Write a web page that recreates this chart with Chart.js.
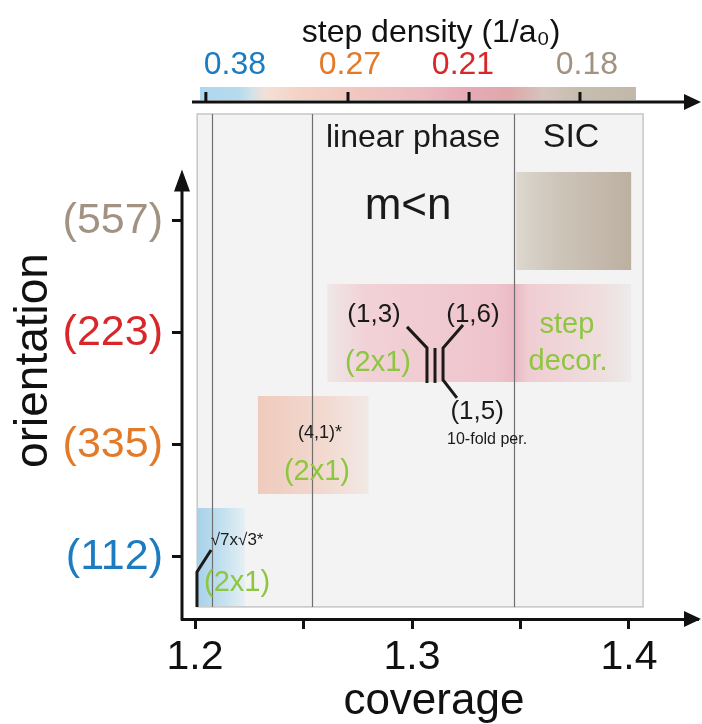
<!DOCTYPE html>
<html>
<head>
<meta charset="utf-8">
<script src="https://cdn.jsdelivr.net/npm/chart.js@4.4.0/dist/chart.umd.min.js"></script>
<style>
  html, body { margin: 0; padding: 0; background: #fff; }
  canvas { display: block; }
</style>
</head>
<body>
<canvas id="chart" width="702" height="724"></canvas>
<script>
// ---- data ----
const orientations = ['(112)', '(335)', '(223)', '(557)'];
const orientColors = ['#1c7cc2', '#e37a2a', '#d8272b', '#a29282'];
const regionStart = [1.201, 1.229, 1.261, 1.348];
const regionEnd = [1.223, 1.280, 1.401, 1.401];
const phaseBounds = [1.208, 1.254, 1.347];
const coverageTicks = [1.2, 1.25, 1.3, 1.35, 1.4];
const coverageLabels = ['1.2', '', '1.3', '', '1.4'];
const densityLabels = ['0.38', '0.27', '0.21', '0.18'];
const densityPos = [1.205, 1.2705, 1.3263, 1.3774];      // tick marks on the colour bar
const densityLabelPos = [1.2184, 1.2714, 1.3235, 1.3806]; // where the numbers sit

const FONT = '"Liberation Sans", Arial, Helvetica, sans-serif';
const GREEN = '#8dc63f';
const INK = '#1a1a1a';

// fills, left to right
const regionStops = [
  [[0, '#a7d1ea'], [0.55, '#c4e1ef'], [1, '#e6eff3']],
  [[0, '#efcbbd'], [0.6, '#f2d9cf'], [1, '#f1e9e5']],
  [[0, '#efe7e7'], [0.12, '#f1d2d7'], [0.55, '#efc4cc'], [0.62, '#eab9c5'], [0.66, '#efcdd2'], [0.9, '#efdede'], [1, '#ecebeb']],
  [[0, '#ddd7cf'], [0.35, '#cec5ba'], [1, '#bcb0a1']]
];
const colorbarStops = [
  [0, '#aed7ee'], [0.09, '#b6dbee'], [0.12, '#d2e2e8'], [0.15, '#f4e0d6'],
  [0.23, '#f4d2c6'], [0.34, '#f2c8c0'], [0.5, '#ecbcc0'], [0.62, '#e6aab6'],
  [0.71, '#e0a8aa'], [0.79, '#d6c4bc'], [0.86, '#c8beb0'], [1, '#c2b8a8']
];
const colorbarRange = [1.2023, 1.4032];
const panel = { x0: 1.201, x1: 1.4065, y0: -0.446, y1: 3.955 };

// labels placed in data coordinates (coverage, orientation index)
const notes = [
  { t: 'linear phase', x: 1.3005, y: 3.741, s: 32, c: INK },
  { t: 'SIC', x: 1.3733, y: 3.741, s: 34, c: INK },
  { t: 'm<n', x: 1.2982, y: 3.125, s: 44, c: INK },
  { t: '(1,3)', x: 1.2825, y: 2.161, s: 26, c: INK },
  { t: '(1,6)', x: 1.3281, y: 2.161, s: 26, c: INK },
  { t: '(2x1)', x: 1.2843, y: 1.732, s: 29, c: GREEN },
  { t: 'step', x: 1.3714, y: 2.071, s: 29, c: GREEN },
  { t: 'decor.', x: 1.3719, y: 1.741, s: 29, c: GREEN },
  { t: '(1,5)', x: 1.3300, y: 1.295, s: 26, c: INK },
  { t: '10-fold per.', x: 1.3346, y: 1.045, s: 16, c: INK },
  { t: '(4,1)*', x: 1.2576, y: 1.107, s: 18, c: INK },
  { t: '(2x1)', x: 1.2562, y: 0.759, s: 29, c: GREEN },
  { t: '\u221A7x\u221A3*', x: 1.2194, y: 0.152, s: 17, c: INK },
  { t: '(2x1)', x: 1.2194, y: -0.232, s: 29, c: GREEN }
];
const leaders = [
  [[1.2977, 2.054], [1.3069, 1.866], [1.3069, 1.554]],
  [[1.3106, 1.866], [1.3106, 1.554]],
  [[1.3235, 2.071], [1.3143, 1.866], [1.3143, 1.580], [1.3207, 1.420]],
  [[1.2009, -0.446], [1.2009, -0.134], [1.2074, 0.0625]]
];

function arrowHead(ctx, x, y, dir, len, half) {
  ctx.beginPath();
  if (dir === 'up') {
    ctx.moveTo(x, y); ctx.lineTo(x - half, y + len); ctx.lineTo(x + half, y + len);
  } else {
    ctx.moveTo(x, y); ctx.lineTo(x - len, y - half); ctx.lineTo(x - len, y + half);
  }
  ctx.closePath();
  ctx.fill();
}

const diagram = {
  id: 'diagram',
  beforeDraw(chart) {
    const { ctx, chartArea, scales } = chart;
    const a = scales.x2.getPixelForValue(colorbarRange[0]);
    const b = scales.x2.getPixelForValue(colorbarRange[1]);
    const g = ctx.createLinearGradient(a, 0, b, 0);
    colorbarStops.forEach(s => g.addColorStop(s[0], s[1]));
    ctx.save();
    ctx.fillStyle = g;
    ctx.fillRect(a, chartArea.top - 15, b - a, 13);
    ctx.restore();
  },
  beforeDatasetsDraw(chart) {
    const { ctx, scales: { x, y } } = chart;
    const l = x.getPixelForValue(panel.x0), r = x.getPixelForValue(panel.x1);
    const t = y.getPixelForValue(panel.y1), b = y.getPixelForValue(panel.y0);
    ctx.save();
    ctx.fillStyle = '#f3f3f3';
    ctx.fillRect(l, t, r - l, b - t);
    ctx.strokeStyle = '#c6c6c6';
    ctx.lineWidth = 1.5;
    ctx.strokeRect(l, t, r - l, b - t);
    ctx.restore();
  },
  afterDatasetsDraw(chart) {
    const { ctx, chartArea, scales: { x, y, x2 } } = chart;
    const t = y.getPixelForValue(panel.y1), b = y.getPixelForValue(panel.y0);
    ctx.save();
    // phase boundaries
    ctx.strokeStyle = '#6f6f6f';
    ctx.lineWidth = 1.2;
    phaseBounds.forEach(v => {
      const px = Math.round(x.getPixelForValue(v)) + 0.5;
      ctx.beginPath(); ctx.moveTo(px, t); ctx.lineTo(px, b); ctx.stroke();
    });
    // leader lines
    ctx.strokeStyle = INK;
    ctx.lineWidth = 3;
    leaders.forEach(pts => {
      ctx.beginPath();
      pts.forEach((p, i) => {
        const px = x.getPixelForValue(p[0]), py = y.getPixelForValue(p[1]);
        i ? ctx.lineTo(px, py) : ctx.moveTo(px, py);
      });
      ctx.stroke();
    });
    // texts
    ctx.textAlign = 'center';
    ctx.textBaseline = 'middle';
    notes.forEach(n => {
      ctx.font = n.s + 'px ' + FONT;
      ctx.fillStyle = n.c;
      ctx.fillText(n.t, x.getPixelForValue(n.x), y.getPixelForValue(n.y));
    });
    // axes with arrows
    ctx.fillStyle = '#111';
    ctx.strokeStyle = '#111';
    ctx.lineWidth = 3;
    const tipY = y.getPixelForValue(3.46);
    ctx.beginPath();
    ctx.moveTo(chartArea.left, chartArea.bottom + 1.5);
    ctx.lineTo(chartArea.left, tipY + 10);
    ctx.stroke();
    arrowHead(ctx, chartArea.left, tipY, 'up', 22, 8);
    arrowHead(ctx, chartArea.right + 3, chartArea.bottom, 'right', 17, 8);
    ctx.beginPath();
    ctx.moveTo(chartArea.left + 10, chartArea.top);
    ctx.lineTo(chartArea.right - 8, chartArea.top);
    ctx.stroke();
    arrowHead(ctx, chartArea.right + 3, chartArea.top, 'right', 17, 8);
    // colour-bar tick marks
    densityPos.forEach(v => {
      const px = x2.getPixelForValue(v);
      ctx.beginPath(); ctx.moveTo(px, chartArea.top); ctx.lineTo(px, chartArea.top - 10); ctx.stroke();
    });
    ctx.restore();
  }
};

Chart.defaults.font.family = FONT;

new Chart(document.getElementById('chart'), {
  type: 'bar',
  data: {
    datasets: [{
      data: orientations.map((o, i) => ({ y: i, x: [regionStart[i], regionEnd[i]] })),
      backgroundColor: ctx => {
        const chart = ctx.chart;
        if (!chart.chartArea) return 'transparent';
        const i = ctx.dataIndex;
        const xs = chart.scales.x;
        const g = chart.ctx.createLinearGradient(xs.getPixelForValue(regionStart[i]), 0, xs.getPixelForValue(regionEnd[i]), 0);
        regionStops[i].forEach(s => g.addColorStop(s[0], s[1]));
        return g;
      },
      borderWidth: 0,
      barPercentage: 1,
      categoryPercentage: 0.875
    }]
  },
  options: {
    indexAxis: 'y',
    responsive: false,
    animation: false,
    events: [],
    layout: { padding: { left: 0, right: 4, top: 0, bottom: 0 } },
    plugins: { legend: { display: false }, tooltip: { enabled: false } },
    scales: {
      x: {
        type: 'linear',
        position: 'bottom',
        min: 1.194,
        max: 1.4318,
        afterBuildTicks: s => { s.ticks = coverageTicks.map(v => ({ value: v })); },
        afterFit: s => { s.height = 105; },
        grid: { drawOnChartArea: false, drawTicks: true, tickLength: 10, tickWidth: 3, tickColor: '#111' },
        border: { display: true, color: '#111', width: 3 },
        ticks: {
          autoSkip: false, maxRotation: 0, color: '#111', padding: 8,
          font: { size: 41, lineHeight: 1 },
          callback: (v, i) => coverageLabels[i]
        },
        title: { display: true, text: 'coverage ', color: '#111', font: { size: 44, lineHeight: 1 }, padding: 0 }
      },
      x2: {
        type: 'linear',
        position: 'top',
        min: 1.194,
        max: 1.4318,
        afterBuildTicks: s => { s.ticks = densityLabelPos.map(v => ({ value: v })); },
        afterFit: s => { s.height = 102; },
        grid: { drawOnChartArea: false, drawTicks: false, tickLength: 10 },
        border: { display: false },
        ticks: {
          autoSkip: false, maxRotation: 0, padding: 21,
          color: ctx => orientColors[ctx.index],
          font: { size: 32, lineHeight: 1 },
          callback: (v, i) => densityLabels[i]
        },
        title: { display: true, text: 'step density (1/a\u2080)  ', color: '#111', font: { size: 32, lineHeight: 1 }, padding: { top: 17 } }
      },
      y: {
        type: 'linear',
        position: 'left',
        offset: false,
        min: -0.554,
        max: 4.062,
        afterBuildTicks: s => { s.ticks = orientations.map((o, i) => ({ value: i })); },
        afterFit: s => { s.width = 182; },
        grid: { offset: false, drawOnChartArea: false, drawTicks: true, tickLength: 10, tickWidth: 3, tickColor: '#111' },
        border: { display: false },
        ticks: {
          autoSkip: false, padding: 9,
          color: ctx => orientColors[ctx.index],
          font: { size: 43, lineHeight: 1 },
          callback: (v, i) => orientations[i]
        },
        title: { display: true, text: 'orientation', color: '#111', font: { size: 46, lineHeight: 1 }, padding: { top: 11 } }
      }
    }
  },
  plugins: [diagram]
});
</script>
</body>
</html>
